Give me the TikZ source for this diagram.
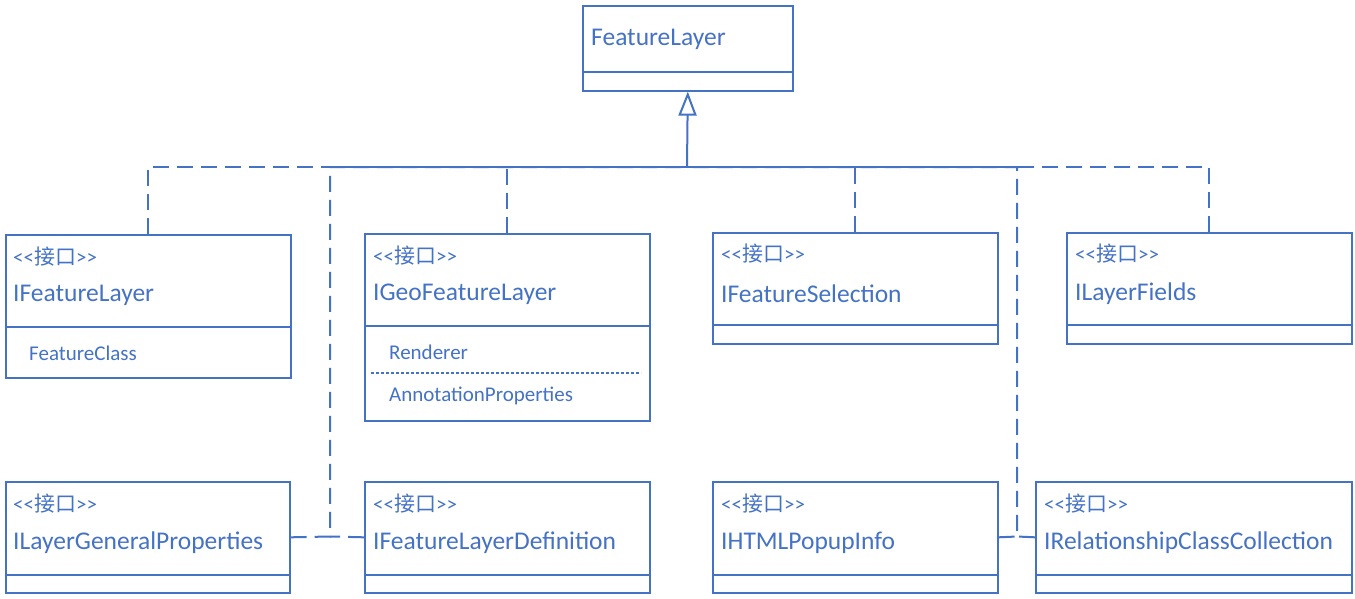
\documentclass[tikz,border=0pt]{standalone}
\usepackage{fontspec}
\setmainfont{Carlito}
\newfontfamily\cjk{Noto Sans CJK SC}
\usetikzlibrary{arrows.meta}
\definecolor{umlblue}{HTML}{4472C4}
\newcommand{\stereo}{<\kern0pt<{\cjk 接口}>\kern0pt>}
\begin{document}
\begin{tikzpicture}[x=1pt,y=-1pt,
  box/.style={draw=umlblue,line width=1.6pt,inner sep=0pt,anchor=north west},
  divider/.style={draw=umlblue,line width=1.6pt},
  nm/.style={anchor=west,inner sep=0pt,text=umlblue,font=\fontsize{25.5}{29}\selectfont},
  st/.style={anchor=west,inner sep=0pt,text=umlblue,font=\fontsize{21}{25}\selectfont},
  attr/.style={anchor=west,inner sep=0pt,text=umlblue,font=\fontsize{21}{25}\selectfont},
  dep/.style={draw=umlblue,line width=2pt,dash pattern=on 16pt off 8pt},
  gen/.style={draw=umlblue,line width=2pt,-{Triangle[open,width=18pt,length=24pt,line width=2pt]}}]
\useasboundingbox (0,0) rectangle (1355,598);
% top class
\node[box,minimum width=210pt,minimum height=85pt] (top) at (582,5) {};
\draw[divider] (582,72) -- (792,72);
\node[nm] (topn) at (591,39.5) {FeatureLayer};
% row 1
\node[box,minimum width=285pt,minimum height=143pt] (b1) at (5,234) {};
\draw[divider] (5,327) -- (290,327);
\node[st] (b1s) at (13,257) {\stereo};
\node[nm] (b1n) at (13,295.5) {IFeatureLayer};
\node[attr] (b1a) at (29,353) {FeatureClass};

\node[box,minimum width=285pt,minimum height=187pt] (b2) at (364,233) {};
\draw[divider] (364,326) -- (649,326);
\draw[draw=umlblue,line width=1.2pt,dash pattern=on 3pt off 2pt] (371,373) -- (641,373);
\node[st] (b2s) at (373,256) {\stereo};
\node[nm] (b2n) at (373,294.5) {IGeoFeatureLayer};
\node[attr] (b2a) at (389,352) {Renderer};
\node[attr] (b2b) at (389,396) {AnnotationProperties};

\node[box,minimum width=285pt,minimum height=111pt] (b3) at (712,232) {};
\draw[divider] (712,325) -- (997,325);
\node[st] (b3s) at (721,254) {\stereo};
\node[nm] (b3n) at (721,293.5) {IFeatureSelection};

\node[box,minimum width=285pt,minimum height=111pt] (b4) at (1066,232) {};
\draw[divider] (1066,325) -- (1351,325);
\node[st] (b4s) at (1075,254) {\stereo};
\node[nm] (b4n) at (1075,293.5) {ILayerFields};
% row 2
\node[box,minimum width=284pt,minimum height=111pt] (b5) at (5,481) {};
\draw[divider] (5,575) -- (289,575);
\node[st] (b5s) at (13,504) {\stereo};
\node[nm] (b5n) at (13,542.5) {ILayerGeneralProperties};

\node[box,minimum width=285pt,minimum height=111pt] (b6) at (364,481) {};
\draw[divider] (364,575) -- (649,575);
\node[st] (b6s) at (373,504) {\stereo};
\node[nm] (b6n) at (373,542.5) {IFeatureLayerDefinition};

\node[box,minimum width=285pt,minimum height=111pt] (b7) at (712,481) {};
\draw[divider] (712,575) -- (997,575);
\node[st] (b7s) at (721,504) {\stereo};
\node[nm] (b7n) at (721,542.5) {IHTMLPopupInfo};

\node[box,minimum width=316pt,minimum height=111pt] (b8) at (1035,481) {};
\draw[divider] (1035,575) -- (1351,575);
\node[st] (b8s) at (1044,504) {\stereo};
\node[nm] (b8n) at (1044,542.5) {IRelationshipClassCollection};
% connectors
\coordinate (hub) at (687,167);
\coordinate (jl) at (330,536.5);
\coordinate (jr) at (1017,536.5);
\draw[gen] (hub) -- (top.south);
\draw[dep] (b1.north) |- (hub);
\draw[dep] (b2.north) |- (hub);
\draw[dep] (b3.north) |- (hub);
\draw[dep] (b4.north) |- (hub);
\draw[dep] (b5.east) -- (jl) |- (hub);
\draw[dep] (b6.west) -- (jl);
\draw[dep] (b7.east) -- (jr) |- (hub);
\draw[dep] (b8.west) -- (jr);
\end{tikzpicture}
\end{document}
